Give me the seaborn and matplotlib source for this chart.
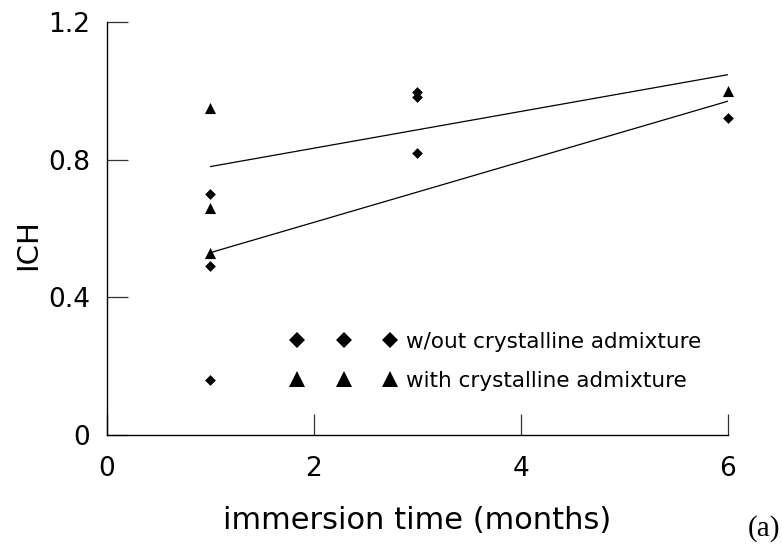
import matplotlib
matplotlib.use("Agg")
import matplotlib.pyplot as plt
from matplotlib.lines import Line2D
import numpy as np
import pandas as pd
import seaborn as sns

# Measured ICH values by immersion time
months_without = [1, 1, 1, 3, 3, 3, 6]
ich_without = [0.70, 0.49, 0.16, 0.997, 0.983, 0.82, 0.92]

months_with = [1, 1, 1, 6]
ich_with = [0.95, 0.66, 0.53, 1.0]

# Trend lines evaluated at the ends of the time range
trend_months = [1, 6]
trend_upper = [0.78, 1.047]
trend_lower = [0.53, 0.97]

x_ticks = [0, 2, 4, 6]
y_ticks = [0, 0.4, 0.8, 1.2]
y_tick_labels = ["0", "0.4", "0.8", "1.2"]

label_without = "w/out crystalline admixture"
label_with = "with crystalline admixture"

sns.set_theme(style="white")
plt.rcParams["font.family"] = ["DejaVu Sans"]
plt.rcParams["text.color"] = "black"
plt.rcParams["axes.labelcolor"] = "black"

df = pd.DataFrame({
    "months": months_without + months_with,
    "ich": ich_without + ich_with,
    "group": [label_without] * len(months_without) + [label_with] * len(months_with),
})
trend_df = pd.DataFrame({
    "months": trend_months * 2,
    "ich": trend_upper + trend_lower,
    "fit": ["upper"] * 2 + ["lower"] * 2,
})

fig = plt.figure(figsize=(7.82, 5.44), dpi=100)
ax = fig.add_axes([107 / 782, 1 - 435 / 544, (728 - 107) / 782, (435 - 22) / 544])

sns.lineplot(data=trend_df, x="months", y="ich", units="fit", estimator=None,
             color="black", linewidth=0.9, ax=ax, legend=False)

sns.scatterplot(data=df[df.group == label_without], x="months", y="ich",
                marker="D", color="black", s=30, linewidth=0, ax=ax,
                legend=False, clip_on=False, zorder=3)
sns.scatterplot(data=df[df.group == label_with], x="months", y="ich",
                marker="^", color="black", s=64, linewidth=0, ax=ax,
                legend=False, clip_on=False, zorder=3)

ax.set_xlim(0, 6)
ax.set_ylim(0, 1.2)
ax.set_xticks(x_ticks)
ax.set_xticklabels([str(t) for t in x_ticks])
ax.set_yticks(y_ticks)
ax.set_yticklabels(y_tick_labels)
ax.tick_params(axis="both", which="major", direction="in", length=15, width=0.9,
               color="#333333", labelsize=19, labelcolor="black",
               bottom=True, left=True, top=False, right=False)
ax.tick_params(axis="x", pad=15)
ax.tick_params(axis="y", pad=12)

for side in ("top", "right"):
    ax.spines[side].set_visible(False)
for side in ("left", "bottom"):
    ax.spines[side].set_color("black")
    ax.spines[side].set_linewidth(1.0)

ax.set_xlabel("immersion time (months)", fontsize=22, color="black")
ax.set_ylabel("ICH", fontsize=21, color="black")
ax.xaxis.set_label_coords(0.5, -0.172)
ax.yaxis.set_label_coords(-0.105, 0.46)

handles = [
    Line2D([], [], marker="D", linestyle="none", color="black", markersize=8.6,
           markeredgewidth=0),
    Line2D([], [], marker="^", linestyle="none", color="black", markersize=11,
           markeredgewidth=0),
]
ax.legend(handles, [label_without, label_with], numpoints=3,
          handlelength=4.9, handletextpad=0.45, labelspacing=0.88,
          borderpad=0, frameon=False, fontsize=15.5,
          loc="upper left", bbox_to_anchor=(280 / 782, 1 - 321 / 544),
          bbox_transform=fig.transFigure)

fig.text(780 / 782, 1 - 542 / 544, "(a)", ha="right", va="bottom",
         fontsize=21, family=["Liberation Serif"], color="black")

fig.savefig("out.png", dpi=100, facecolor="white")
